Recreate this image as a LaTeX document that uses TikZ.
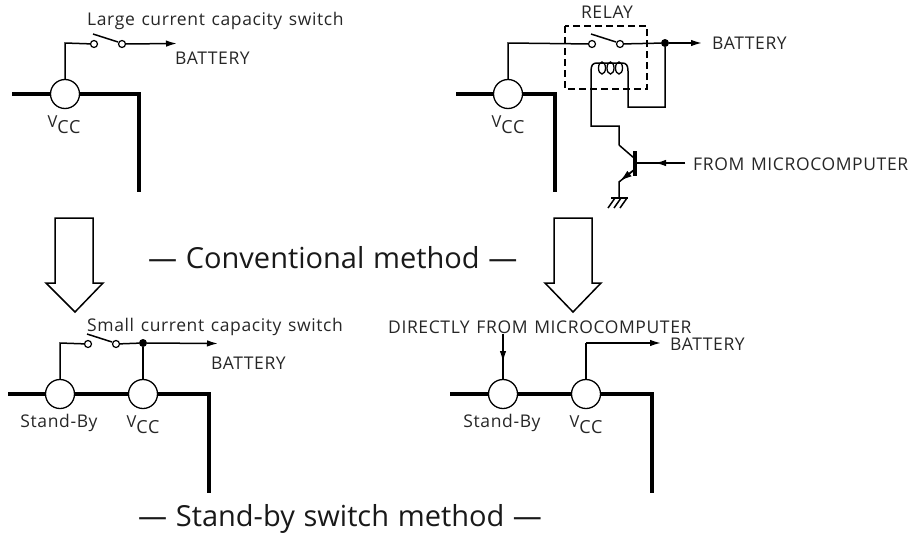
\documentclass[tikz,border=0pt]{standalone}
\usepackage{fontspec}
\setmainfont{Open Sans}
\newfontfamily\labfont[LetterSpace=3.5,WordSpace=1.3]{Open Sans}
\newfontfamily\bigfont[WordSpace=1.15]{Open Sans}
\usetikzlibrary{arrows.meta}
\tikzset{
  bus/.style={line width=4pt,line cap=butt,line join=miter},
  wire/.style={line width=1.5pt,line join=miter},
  term/.style={circle,draw,fill=white,line width=1.3pt,minimum size=29pt,inner sep=0pt},
  cont/.style={circle,draw,fill=white,line width=1.2pt,minimum size=7pt,inner sep=0pt},
  dotn/.style={circle,fill=black,minimum size=8pt,inner sep=0pt},
  tipw/.style={-{Latex[length=11pt,width=6.5pt]}},
  lab/.style={inner sep=0pt,font=\labfont\fontsize{17.5}{18}\selectfont,text=black!85},
  big/.style={inner sep=0pt,font=\bigfont\fontsize{29}{31}\selectfont,text=black!90},
  hollow/.style={draw,fill=white,line width=1.5pt,line join=miter}
}
\newcommand{\vcc}[2]{\node[lab,anchor=base] (#1) at (#2) {\fontsize{16.5}{17}\selectfont V\raisebox{-5.5pt}{\fontsize{18}{19}\selectfont CC}};}
\begin{document}
\begin{tikzpicture}[x=1pt,y=-1pt]
\useasboundingbox (0,0) rectangle (913,533);

% ---------- top left
\draw[bus] (12,94) -- (139,94) -- (139,192);
\node[term] (a1) at (65,94) {};
\coordinate (a1u) at (65,43);
\node[cont] (a2) at (94,44) {};
\node[cont] (a3) at (122,44) {};
\coordinate (a4) at (177,43.5);
\draw[wire] (a1) -- (a1u) -- (a2);
\draw[wire,tipw] (a3) -- (a4);
\draw[wire] (93,34) -- (118,42);
\node[lab,anchor=west] (t1) at (87,21) {Large current capacity switch};
\node[lab,anchor=west] (t2) at (175,58) {BATTERY};
\vcc{t3}{64,127.5}

% ---------- top right
\draw[bus] (456,94) -- (555,94) -- (555,192);
\node[term] (b1) at (508,94) {};
\coordinate (b1u) at (508,43);
\node[cont] (b2) at (592,44) {};
\node[cont] (b3) at (620,44) {};
\node[dotn] (b4) at (665,43) {};
\coordinate (b5) at (702,43);
\draw[wire] (b1) -- (b1u) -- (b2);
\draw[wire] (b3) -- (b4);
\draw[wire,tipw] (b4) -- (b5);
\draw[wire] (591,34) -- (616,42);
\draw[wire,dash pattern=on 7pt off 4pt] (565,26) rectangle (647,89);
% coil
\draw[wire] (619,145) -- (619,126) -- (591,126) -- (591,71)
  .. controls (591,65) and (593,63) .. (597,63) -- (622,63)
  .. controls (626,63) and (628,65) .. (628,71) -- (628,107) -- (665,107) -- (b4);
\draw[line width=1.3pt] (602,68) ellipse [x radius=3.5,y radius=6];
\draw[line width=1.3pt] (610.5,68) ellipse [x radius=3.5,y radius=6];
\draw[line width=1.3pt] (619,68) ellipse [x radius=3.5,y radius=6];
% transistor
\coordinate (q1) at (635,163);
\coordinate (q2) at (685,163);
\draw[line width=3.5pt] (635,151) -- (635,176);
\draw[wire] (619,145) -- (634,158);
\draw[wire] (q2) -- (q1);
\draw[wire,-{Latex[length=11pt,width=6.5pt]}] (q2) -- (655,163);
\draw[wire] (635,169) -- (619,182) -- (619,198);
\draw[wire,-{Latex[length=12pt,width=7pt]}] (634,170) -- (620,181);
\draw[wire] (611,198) -- (628,198);
\draw[wire] (615,198) -- (608,208) (621,198) -- (614,208) (627,198) -- (620,208);
\node[lab,anchor=center] (t4) at (607,12) {RELAY};
\node[lab,anchor=west] (t5) at (712,43) {BATTERY};
\node[lab,anchor=west] (t6) at (693,164) {FROM MICROCOMPUTER};
\vcc{t7}{508,127.5}

% ---------- hollow arrows
\draw[hollow] (55,218) -- (93,218) -- (93,283) -- (103,283) -- (75,312) -- (46,283) -- (55,283) -- cycle;
\draw[hollow] (554,218) -- (592,218) -- (592,283) -- (601,283) -- (573,312) -- (545,283) -- (554,283) -- cycle;
\node[big,anchor=west] (t8) at (148,258) {— Conventional method —};

% ---------- bottom left
\draw[bus] (8,394) -- (209,394) -- (209,493);
\node[term] (c1) at (60,394) {};
\node[term] (c2) at (143,394) {};
\coordinate (c1u) at (60,343);
\node[cont] (c3) at (88,344) {};
\node[cont] (c4) at (116,344) {};
\node[dotn] (c5) at (143,343) {};
\coordinate (c6) at (218,343.5);
\draw[wire] (c1) -- (c1u) -- (c3);
\draw[wire] (c4) -- (c5);
\draw[wire,tipw] (c5) -- (c6);
\draw[wire] (c5) -- (c2);
\draw[wire] (87,334) -- (112,342);
\node[lab,anchor=west] (t9) at (87,327) {Small current capacity switch};
\node[lab,anchor=west] (t10) at (211,363) {BATTERY};
\node[lab,anchor=center] (t11) at (59,423) {Stand-By};
\vcc{t12}{143,427.5}

% ---------- bottom right
\draw[bus] (450,394) -- (652,394) -- (652,493);
\node[term] (d1) at (503,394) {};
\node[term] (d2) at (586,394) {};
\coordinate (d3) at (503,334);
\coordinate (d4) at (586,343);
\coordinate (d5) at (661,343);
\draw[wire] (d3) -- (d1);
\draw[wire,-{Latex[length=11pt,width=6.5pt]}] (d3) -- (503,362);
\draw[wire] (d2) -- (d4);
\draw[wire,tipw] (d4) -- (d5);
\node[lab,anchor=west] (t13) at (388,327) {DIRECTLY FROM MICROCOMPUTER};
\node[lab,anchor=west] (t14) at (670,344) {BATTERY};
\node[lab,anchor=center] (t15) at (502,423) {Stand-By};
\vcc{t16}{586,427.5}

\node[big,anchor=west] (t17) at (138,519) {— Stand-by switch method —};
\end{tikzpicture}
\end{document}
